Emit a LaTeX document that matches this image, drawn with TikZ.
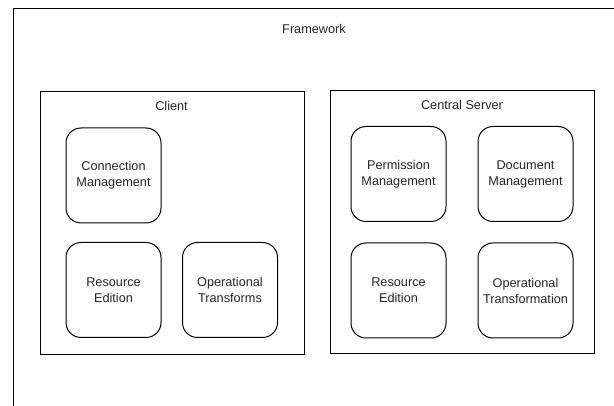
\documentclass[tikz,border=0pt]{standalone}
\usepackage{fontspec}
\setmainfont{Liberation Sans}
\begin{document}
\begin{tikzpicture}[x=1pt,y=-1pt,
  every node/.style={font=\fontsize{12.7}{16}\selectfont, text=black!85},
  module/.style={draw, rounded corners=15pt, line width=1pt, minimum width=95pt, minimum height=95pt, inner sep=0pt, outer sep=0pt, align=center},
  group/.style={draw, line width=1pt, inner sep=0pt, outer sep=0pt},
  title/.style={inner sep=0pt, anchor=center}]
\useasboundingbox (0,0) rectangle (614,406);
\clip (0,0) rectangle (614,406);
\fill[white] (0,0) rectangle (614,406);
% framework frame
\node[group, minimum width=620pt, minimum height=420pt, anchor=north west] (fw) at (13,8.5) {};
\node[title] (fwlabel) at (314,29) {Framework};
% client
\node[group, minimum width=264pt, minimum height=263pt] (client) at (172,223.5) {};
\node[title] (clientlabel) at (171.5,106) {Client};
\node[module] (conn) at (113.5,175.5) {Connection\\Management};
\node[module] (cre) at (113.5,290) {Resource\\Edition};
\node[module] (cot) at (230,290) {Operational\\Transforms};
% server
\node[group, minimum width=264pt, minimum height=263pt] (server) at (462,222.5) {};
\node[title] (serverlabel) at (462,105) {Central Server};
\node[module] (perm) at (398.5,174) {Permission\\Management};
\node[module] (doc) at (525.5,174) {Document\\Management};
\node[module] (sre) at (398.5,290.5) {Resource\\Edition};
\node[module] (sot) at (525.5,290.5) {Operational\\Transformation};
\end{tikzpicture}
\end{document}
